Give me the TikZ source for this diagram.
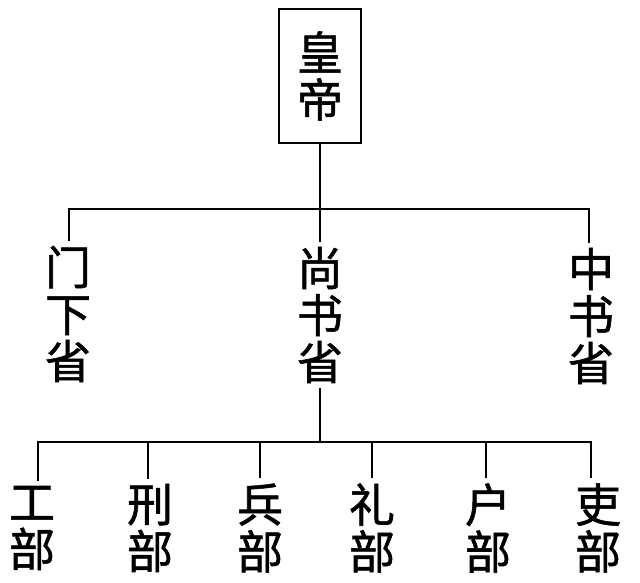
\documentclass[tikz,border=0pt]{standalone}
\usepackage{fontspec}
\newfontfamily\cjk[FakeBold=1.2]{Noto Sans CJK SC}

\begin{document}
\begin{tikzpicture}[x=1pt,y=-1pt,line width=2pt,
  every node/.style={font=\cjk\fontsize{46}{47}\selectfont,align=center,inner xsep=0pt,inner ysep=4pt}]
\useasboundingbox (0,0) rectangle (640,582);
\node[draw=black,minimum width=82pt,minimum height=134pt,line width=2.4pt] (hd) at (320,76) {皇\\帝};
\node (mx) at (68,314) {门\\下\\省};
\node (ss) at (320,315) {尚\\书\\省};
\node (zs) at (591,316) {中\\书\\省};
\node (gb) at (32,528) {工\\部};
\node (xb) at (150,528) {刑\\部};
\node (bb) at (260,528) {兵\\部};
\node (lb) at (372,528) {礼\\部};
\node (hb) at (488,528) {户\\部};
\node (lib) at (598,528) {吏\\部};
\coordinate (top) at (320,209);
\coordinate (mid) at (320,442);
\draw (hd.south) -- (top);
\draw ([xshift=1pt]mx.north) |- (top) -| ([xshift=-2pt]zs.north);
\draw (top) -- (ss.north);
\draw (ss.south) -- (mid);
\draw ([xshift=6pt]gb.north) |- (mid) -| ([xshift=-7pt]lib.north);
\draw (mid) -| ([xshift=-2pt]xb.north);
\draw (mid) -| (bb.north);
\draw (mid) -| (lb.north);
\draw (mid) -| ([xshift=-2pt]hb.north);
\end{tikzpicture}
\end{document}
